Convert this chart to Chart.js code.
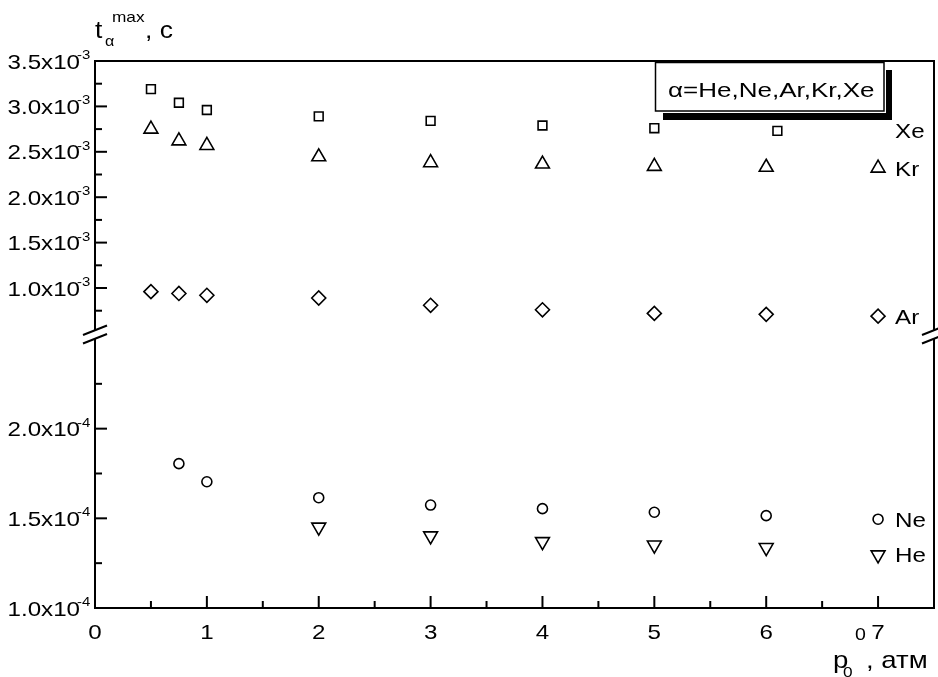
<!DOCTYPE html>
<html>
<head>
<meta charset="utf-8">
<script src="https://cdn.jsdelivr.net/npm/chart.js@4.4.1/dist/chart.umd.min.js"></script>
<style>
html, body { margin: 0; padding: 0; background: #fff; }
canvas { display: block; }
</style>
</head>
<body>
<canvas id="chart" width="938" height="677"></canvas>
<script>
// pressure p0 (atm) and t_max (s) per gas
var xeP = [0.5, 0.75, 1, 2, 3, 4, 5, 6.1];
var xeT = [3.19e-3, 3.04e-3, 2.96e-3, 2.89e-3, 2.84e-3, 2.79e-3, 2.76e-3, 2.73e-3];
var krP = [0.5, 0.75, 1, 2, 3, 4, 5, 6, 7];
var krT = [2.75e-3, 2.62e-3, 2.57e-3, 2.445e-3, 2.38e-3, 2.365e-3, 2.34e-3, 2.33e-3, 2.32e-3];
var arP = [0.5, 0.75, 1, 2, 3, 4, 5, 6, 7];
var arT = [0.96e-3, 0.94e-3, 0.92e-3, 0.89e-3, 0.81e-3, 0.76e-3, 0.72e-3, 0.71e-3, 0.69e-3];
var neP = [0.75, 1, 2, 3, 4, 5, 6, 7];
var neT = [1.805e-4, 1.704e-4, 1.615e-4, 1.574e-4, 1.554e-4, 1.534e-4, 1.515e-4, 1.495e-4];
var heP = [2, 3, 4, 5, 6, 7];
var heT = [1.451e-4, 1.402e-4, 1.37e-4, 1.351e-4, 1.337e-4, 1.296e-4];

// axis ticks
var xMajor = [0, 1, 2, 3, 4, 5, 6, 7];
var xMinor = [0.5, 1.5, 2.5, 3.5, 4.5, 5.5, 6.5];
var topMajor = [1.0e-3, 1.5e-3, 2.0e-3, 2.5e-3, 3.0e-3, 3.5e-3];
var topMinor = [0.75e-3, 1.25e-3, 1.75e-3, 2.25e-3, 2.75e-3, 3.25e-3];
var botMajor = [1.0e-4, 1.5e-4, 2.0e-4];
var botMinor = [1.25e-4, 1.75e-4, 2.25e-4];

var FONT = '"Liberation Sans", Arial, sans-serif';
var SX = 1.15; // horizontal stretch of the lettering

function pts(xs, ys) {
  return xs.map(function (x, i) { return { x: x, y: ys[i] }; });
}

function tickSetter(major, minor) {
  return function (scale) {
    scale.ticks = major.map(function (v) { return { value: v, major: true }; })
      .concat(minor.map(function (v) { return { value: v, major: false }; }));
  };
}

function put(ctx, s, x, y, size, align, sx) {
  ctx.save();
  ctx.font = size + 'px ' + FONT;
  ctx.textAlign = 'left';
  ctx.textBaseline = 'alphabetic';
  var w = ctx.measureText(s).width * sx;
  var left = align === 'right' ? x - w : (align === 'center' ? x - w / 2 : x);
  ctx.translate(left, y);
  ctx.scale(sx, 1);
  ctx.fillText(s, 0, 0);
  ctx.restore();
  return w;
}

function sciLabel(v) {
  var e = Math.floor(Math.log10(v) + 1e-9);
  var m = v / Math.pow(10, e);
  return [m.toFixed(1) + 'x10', String(e)];
}

function line(ctx, x1, y1, x2, y2) {
  ctx.beginPath();
  ctx.moveTo(x1, y1);
  ctx.lineTo(x2, y2);
  ctx.stroke();
}

var decor = {
  id: 'decor',
  afterDraw: function (chart) {
    var ctx = chart.ctx;
    var a = chart.chartArea;
    var sx = chart.scales.x, yt = chart.scales.yTop, yb = chart.scales.yBottom;
    var brk = yt.bottom;

    ctx.save();
    ctx.strokeStyle = '#000';
    ctx.fillStyle = '#000';
    ctx.lineWidth = 2;
    ctx.lineCap = 'butt';

    // frame
    line(ctx, a.left, a.top, a.right, a.top);
    line(ctx, a.left, a.bottom, a.right, a.bottom);
    line(ctx, a.left, a.top - 1, a.left, brk - 4);
    line(ctx, a.left, brk + 4, a.left, a.bottom + 1);
    line(ctx, a.right, a.top - 1, a.right, brk - 4);
    line(ctx, a.right, brk + 4, a.right, a.bottom + 1);

    // axis break marks
    [a.left, a.right].forEach(function (cx) {
      line(ctx, cx - 12, brk + 0.5, cx + 12, brk - 9);
      line(ctx, cx - 12, brk + 9, cx + 12, brk - 0.5);
    });

    // inward ticks
    sx.ticks.forEach(function (t) {
      var px = sx.getPixelForValue(t.value);
      line(ctx, px, a.bottom, px, a.bottom - (t.major ? 12 : 7));
    });
    [yt, yb].forEach(function (s) {
      s.ticks.forEach(function (t) {
        var py = s.getPixelForValue(t.value);
        line(ctx, a.left, py, a.left + (t.major ? 12 : 7), py);
      });
    });

    // tick labels
    xMajor.forEach(function (v) {
      put(ctx, String(v), sx.getPixelForValue(v), a.bottom + 31, 21, 'center', SX);
    });
    topMajor.concat(botMajor).forEach(function (v) {
      var s = v >= 4e-4 ? yt : yb;
      var py = s.getPixelForValue(v);
      var lab = sciLabel(v);
      put(ctx, lab[0], 80, py + 7.5, 21, 'right', SX);
      put(ctx, '-' + lab[1].replace('-', ''), 77, py - 2, 13, 'left', SX);
    });

    // series names at the right
    var names = [['Xe', xeT], ['Kr', krT], ['Ar', arT], ['Ne', neT], ['He', heT]];
    names.forEach(function (n) {
      var vals = n[1];
      var s = vals[0] > 4e-4 ? yt : yb;
      var py = s.getPixelForValue(vals[vals.length - 1]);
      put(ctx, n[0], sx.getPixelForValue(7) + 17, py + 7.5, 21, 'left', SX);
    });

    // axis titles
    put(ctx, 't', 95, 38, 23, 'left', SX);
    put(ctx, '\u03b1', 105, 46, 14, 'left', SX);
    put(ctx, 'max', 112, 22, 15, 'left', SX);
    put(ctx, ', c', 145, 38, 23, 'left', SX);

    put(ctx, 'p', 833, 668, 24, 'left', SX);
    put(ctx, '0', 843, 677, 15, 'left', SX);
    put(ctx, '0', 855, 640, 17, 'left', SX);
    put(ctx, ', \u0430\u0442\u043c', 866, 668, 24, 'left', SX);

    // gas label box with drop shadow
    ctx.fillRect(663, 113, 229, 7);
    ctx.fillRect(886, 70, 6, 50);
    ctx.fillStyle = '#fff';
    ctx.fillRect(655, 62, 229, 49);
    ctx.lineWidth = 1.5;
    ctx.strokeRect(655.5, 62.5, 228.5, 48.5);
    ctx.fillStyle = '#000';
    put(ctx, '\u03b1=He,Ne,Ar,Kr,Xe', 668, 97, 20, 'left', 1.3);

    ctx.restore();
  }
};

var common = {
  showLine: false,
  pointBackgroundColor: 'rgba(0,0,0,0)',
  pointBorderColor: '#000',
  pointBorderWidth: 1.6,
  pointHoverBorderWidth: 1.6
};

function series(label, xs, ys, axis, style, r, rot) {
  return Object.assign({
    label: label,
    data: pts(xs, ys),
    yAxisID: axis,
    pointStyle: style,
    pointRadius: r,
    pointHoverRadius: r,
    pointRotation: rot || 0
  }, common);
}

var hidden = {
  grid: { display: false, drawTicks: false, tickLength: 0 },
  border: { display: false },
  ticks: { display: false, padding: 0 }
};

new Chart(document.getElementById('chart'), {
  type: 'scatter',
  data: {
    datasets: [
      series('Xe', xeP, xeT, 'yTop', 'rect', 6.2),
      series('Kr', krP, krT, 'yTop', 'triangle', 8),
      series('Ar', arP, arT, 'yTop', 'rectRot', 7),
      series('Ne', neP, neT, 'yBottom', 'circle', 5),
      series('He', heP, heT, 'yBottom', 'triangle', 8, 180)
    ]
  },
  options: {
    responsive: false,
    animation: false,
    events: [],
    layout: { autoPadding: false, padding: { left: 95, top: 61, right: 4, bottom: 69 } },
    plugins: { legend: { display: false }, tooltip: { enabled: false } },
    scales: {
      x: Object.assign({
        type: 'linear', min: 0, max: 7.5,
        afterBuildTicks: tickSetter(xMajor, xMinor),
        afterFit: function (s) { s.height = 0; }
      }, hidden),
      yTop: Object.assign({
        type: 'linear', position: 'left', stack: 'gas', stackWeight: 1, weight: 2,
        min: 0.488e-3, max: 3.5e-3,
        afterBuildTicks: tickSetter(topMajor, topMinor),
        afterFit: function (s) { s.width = 0; }
      }, hidden),
      yBottom: Object.assign({
        type: 'linear', position: 'left', stack: 'gas', stackWeight: 1, weight: 1,
        min: 1.0e-4, max: 2.525e-4,
        afterBuildTicks: tickSetter(botMajor, botMinor),
        afterFit: function (s) { s.width = 0; }
      }, hidden)
    }
  },
  plugins: [decor]
});
</script>
</body>
</html>
